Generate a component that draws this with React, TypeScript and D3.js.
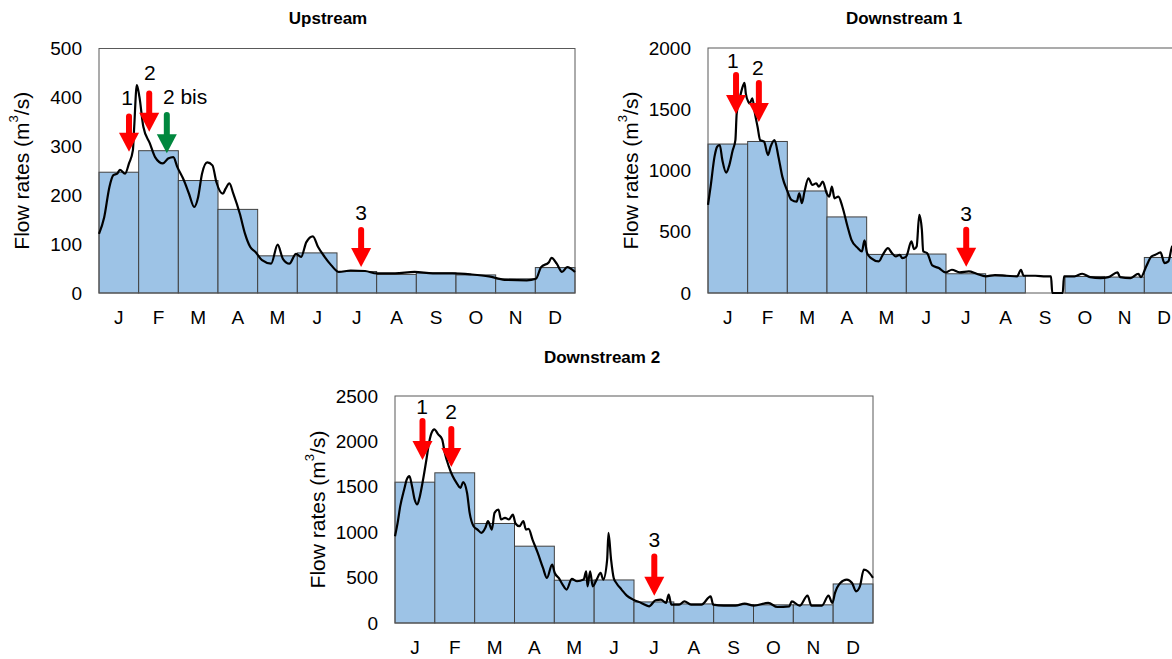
import React from "react";
import * as d3 from "d3";

// ---------- DATA ----------
const monthLabels = ["J", "F", "M", "A", "M", "J", "J", "A", "S", "O", "N", "D"];

// Upstream
const upTicks = [0, 100, 200, 300, 400, 500];
const upMonthly = [247, 291, 230, 171, 76, 82, 44, 38, 41, 37, 29, 52];
const upDays = [0,4,8,11,14,16,20,23,26,27,29,31,34,39,43,49,53,57,60,65,69,73,76,79,83,87,90,95,97,100,103,108,112,116,120,125,132,137,141,146,151,155,159,164,168,173,178,184,193,204,213,227,242,256,271,285,299,311,328,335,339,345,347,351,355,359,365];
const upFlow = [121,155,217,241,244,252,244,265,292,340,425,401,340,306,278,265,275,278,258,231,203,176,196,244,267,261,227,203,213,224,203,162,121,94,84,67,60,99,70,60,80,74,104,116,94,74,57,43,46,45,40,40,43,40,40,38,34,27,26,29,53,63,72,60,43,53,43];
const upArrowDay = [23, 38.5, 52, 201];
const upArrowTop = [367, 414, 370, 135];
const upArrowTip = [289, 330, 286, 53];
const upArrowText = ["1", "2", "2 bis", "3"];
const upArrowColor = ["red", "red", "green", "red"];
const upLabelDay = [21.5, 39, 49, 201];
const upLabelValue = [400, 451, 402, 164];
const upLabelAnchor = ["middle", "middle", "start", "middle"];

// Downstream 1
const d1Ticks = [0, 500, 1000, 1500, 2000];
const d1Monthly = [1216, 1237, 833, 621, 315, 318, 157, 138, 0, 135, 130, 290];
const d1Days = [0,2,5,7,9,11,14,16,19,21,22,24,27,28,29,31,32,34,36,38,40,43,46,48,51,54,57,61,64,68,70,72,74,77,80,83,85,88,91,93,95,97,100,103,107,110,115,118,120,122,125,131,134,138,141,144,147,149,152,156,158,160,162,164,165,168,172,177,182,187,193,200,206,213,220,229,237,240,242,251,259,263,264,272,273,281,287,293,301,307,314,316,324,330,332,336,340,343,347,350,353,356,359,362,365];
const d1Flow = [719,868,1113,1194,1208,1085,982,1031,1167,1248,1465,1574,1696,1715,1628,1560,1547,1588,1465,1357,1248,1235,1126,1194,1248,1113,950,828,760,746,814,733,828,936,882,896,868,909,814,787,868,773,787,706,543,434,366,339,429,326,285,258,312,366,326,298,312,285,298,421,358,380,638,516,339,326,225,204,168,190,168,176,157,136,147,141,136,190,141,141,136,136,0,0,136,136,157,130,122,130,168,130,122,157,130,217,298,312,331,244,258,380,394,366,370];
const d1ArrowDay = [21.5, 39, 198];
const d1ArrowTop = [1804, 1739, 541];
const d1ArrowTip = [1461, 1396, 214];
const d1ArrowText = ["1", "2", "3"];
const d1ArrowColor = ["red", "red", "red"];
const d1LabelDay = [19, 38.3, 198];
const d1LabelValue = [1902, 1837, 653];
const d1LabelAnchor = ["middle", "middle", "middle"];

// Downstream 2
const d2Ticks = [0, 500, 1000, 1500, 2000, 2500];
const d2Monthly = [1551, 1654, 1096, 846, 471, 474, 232, 210, 202, 200, 200, 430];
const d2Days = [0,2,4,7,9,11,13,15,17,19,21,24,26,28,30,33,36,38,41,44,47,50,52,55,57,60,63,66,69,71,74,76,79,81,84,87,90,92,95,98,100,102,105,109,113,116,120,122,125,128,131,135,139,144,146,147,149,151,154,157,159,162,163,165,167,169,173,177,182,188,194,199,203,207,209,211,217,221,226,234,241,243,251,260,267,274,285,292,301,303,309,315,318,326,331,334,336,340,345,349,352,355,358,361,365];
const d2Flow = [956,1103,1287,1471,1581,1618,1507,1360,1305,1397,1544,1801,1985,2096,2132,2077,2022,1875,1728,1618,1544,1489,1551,1434,1213,1066,1029,993,1048,1121,1029,1213,1250,1140,1158,1140,1195,1096,1066,1121,1029,1037,919,772,607,496,643,551,496,423,368,485,460,478,570,404,570,404,478,551,478,698,993,698,496,441,368,301,257,221,184,250,257,221,313,202,202,239,202,202,294,202,191,191,213,191,221,176,184,239,191,301,191,191,301,221,331,441,478,441,349,404,588,570,496];
const d2ArrowDay = [21, 43, 198];
const d2ArrowTop = [2258, 2170, 765];
const d2ArrowTip = [1795, 1718, 301];
const d2ArrowText = ["1", "2", "3"];
const d2ArrowColor = ["red", "red", "red"];
const d2LabelDay = [20.6, 42.8, 198];
const d2LabelValue = [2379, 2324, 919];
const d2LabelAnchor = ["middle", "middle", "middle"];

// ---------- STYLE ----------
const FONT = "'Liberation Sans', Arial, Helvetica, sans-serif";
const COLORS: Record<string, string> = { red: "#FF0000", green: "#00873E" };

type PanelProps = {
  title: string;
  titleX: number;
  titleY: number;
  left: number;
  top: number;
  width: number;
  height: number;
  ticks: number[];
  monthly: number[];
  days: number[];
  flow: number[];
  arrowDay: number[];
  arrowTop: number[];
  arrowTip: number[];
  arrowText: string[];
  arrowColor: string[];
  labelDay: number[];
  labelValue: number[];
  labelAnchor: string[];
};

function Panel(p: PanelProps) {
  const yMax = p.ticks[p.ticks.length - 1];
  const xBand = d3
    .scaleBand<number>()
    .domain(d3.range(12))
    .range([p.left, p.left + p.width])
    .padding(0);
  const xDay = d3.scaleLinear().domain([0, 365]).range([p.left, p.left + p.width]);
  const y = d3.scaleLinear().domain([0, yMax]).range([p.top + p.height, p.top]);

  const line = d3
    .line<number>()
    .x((_, i) => xDay(p.days[i]))
    .y((v) => y(v))
    .curve(d3.curveMonotoneX);

  const bottom = p.top + p.height;
  const headW = 20;
  const headL = 19;
  const shaftW = 6;

  return (
    <g>
      <text
        x={p.titleX}
        y={p.titleY}
        textAnchor="middle"
        dominantBaseline="central"
        fontFamily={FONT}
        fontWeight="bold"
        fontSize={17}
        fill="#000"
      >
        {p.title}
      </text>
      {/* plot background */}
      <rect x={p.left} y={p.top} width={p.width} height={p.height} fill="#fff" />
      {/* bars */}
      {p.monthly.map((v, i) =>
        v > 0 ? (
          <rect
            key={"b" + i}
            x={xBand(i)!}
            y={y(v)}
            width={xBand.bandwidth()}
            height={bottom - y(v)}
            fill="#9DC3E6"
            stroke="#404040"
            strokeWidth={1}
          />
        ) : null
      )}
      {/* frame */}
      <rect
        x={p.left}
        y={p.top}
        width={p.width}
        height={p.height}
        fill="none"
        stroke="#595959"
        strokeWidth={1}
      />
      {/* line */}
      <path d={line(p.flow) || ""} fill="none" stroke="#000" strokeWidth={2.2} strokeLinejoin="round" />
      {/* y ticks */}
      {p.ticks.map((t) => (
        <text
          key={"t" + t}
          x={p.left - 17}
          y={y(t)}
          textAnchor="end"
          dominantBaseline="central"
          fontFamily={FONT}
          fontSize={19}
          fill="#000"
        >
          {t}
        </text>
      ))}
      {/* month labels */}
      {monthLabels.map((m, i) => (
        <text
          key={"m" + i}
          x={xBand(i)! + xBand.bandwidth() / 2}
          y={bottom + 24}
          textAnchor="middle"
          dominantBaseline="central"
          fontFamily={FONT}
          fontSize={19}
          fill="#000"
        >
          {m}
        </text>
      ))}
      {/* y-axis label */}
      <text
        transform={`translate(${p.left - 78},${p.top + p.height / 2}) rotate(-90)`}
        textAnchor="middle"
        dominantBaseline="central"
        fontFamily={FONT}
        fontSize={21}
        fill="#000"
      >
        Flow rates (m<tspan dy={-8} fontSize={13}>3</tspan>
        <tspan dy={8}>/s)</tspan>
      </text>
      {/* arrows */}
      {p.arrowDay.map((d, i) => {
        const ax = xDay(d);
        const yTop = y(p.arrowTop[i]);
        const yTip = y(p.arrowTip[i]);
        const col = COLORS[p.arrowColor[i]];
        const headStart = yTip - headL;
        return (
          <g key={"a" + i}>
            <line
              x1={ax}
              x2={ax}
              y1={yTop + shaftW / 2}
              y2={headStart + 1}
              stroke={col}
              strokeWidth={shaftW}
              strokeLinecap="round"
            />
            <path
              d={`M${ax - headW / 2},${headStart}L${ax + headW / 2},${headStart}L${ax},${yTip}Z`}
              fill={col}
            />
            <text
              x={xDay(p.labelDay[i])}
              y={y(p.labelValue[i])}
              textAnchor={p.labelAnchor[i] as any}
              dominantBaseline="central"
              fontFamily={FONT}
              fontSize={21}
              fill="#000"
            >
              {p.arrowText[i]}
            </text>
          </g>
        );
      })}
    </g>
  );
}

export default function App() {
  return (
    <svg
      width={1172}
      height={659}
      style={{ position: "absolute", left: 0, top: 0, background: "#fff" }}
    >
      <rect x={0} y={0} width={1172} height={659} fill="#fff" />
      <Panel
        title="Upstream"
        titleX={328}
        titleY={18}
        left={99}
        top={48.5}
        width={476}
        height={244.5}
        ticks={upTicks}
        monthly={upMonthly}
        days={upDays}
        flow={upFlow}
        arrowDay={upArrowDay}
        arrowTop={upArrowTop}
        arrowTip={upArrowTip}
        arrowText={upArrowText}
        arrowColor={upArrowColor}
        labelDay={upLabelDay}
        labelValue={upLabelValue}
        labelAnchor={upLabelAnchor}
      />
      <Panel
        title="Downstream 1"
        titleX={904}
        titleY={18}
        left={708}
        top={48}
        width={476}
        height={245}
        ticks={d1Ticks}
        monthly={d1Monthly}
        days={d1Days}
        flow={d1Flow}
        arrowDay={d1ArrowDay}
        arrowTop={d1ArrowTop}
        arrowTip={d1ArrowTip}
        arrowText={d1ArrowText}
        arrowColor={d1ArrowColor}
        labelDay={d1LabelDay}
        labelValue={d1LabelValue}
        labelAnchor={d1LabelAnchor}
      />
      <Panel
        title="Downstream 2"
        titleX={602}
        titleY={357}
        left={395}
        top={396}
        width={478}
        height={227}
        ticks={d2Ticks}
        monthly={d2Monthly}
        days={d2Days}
        flow={d2Flow}
        arrowDay={d2ArrowDay}
        arrowTop={d2ArrowTop}
        arrowTip={d2ArrowTip}
        arrowText={d2ArrowText}
        arrowColor={d2ArrowColor}
        labelDay={d2LabelDay}
        labelValue={d2LabelValue}
        labelAnchor={d2LabelAnchor}
      />
    </svg>
  );
}
